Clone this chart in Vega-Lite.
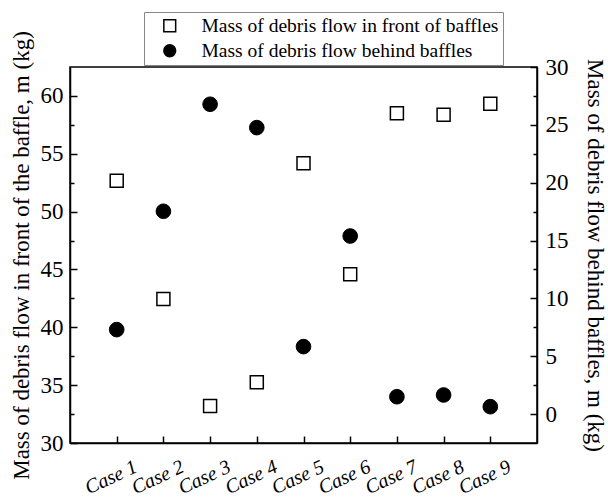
{
  "$schema": "https://vega.github.io/schema/vega-lite/v6.json",
  "width": 467,
  "height": 376,
  "autosize": {"type": "none"},
  "padding": {"left": 70, "top": 67, "right": 71, "bottom": 56},
  "background": "white",
  "config": {
    "view": {"stroke": "black", "strokeWidth": 1.5},
    "font": "Liberation Serif",
    "axis": {
      "domainColor": "black", "domainWidth": 1.5,
      "tickColor": "black", "tickWidth": 1.5,
      "labelColor": "black", "labelFont": "Liberation Serif", "labelFontSize": 23,
      "titleColor": "black", "titleFont": "Liberation Serif", "titleFontSize": 23, "titleFontWeight": "normal",
      "grid": false
    },
    "legend": {
      "labelFont": "Liberation Serif", "labelFontSize": 19.5, "labelColor": "black", "labelLimit": 0
    }
  },
  "data": {
    "values": [
      {"case": "Case 1", "series": "Mass of debris flow in front of baffles", "value": 52.67},
      {"case": "Case 2", "series": "Mass of debris flow in front of baffles", "value": 42.45},
      {"case": "Case 3", "series": "Mass of debris flow in front of baffles", "value": 33.2},
      {"case": "Case 4", "series": "Mass of debris flow in front of baffles", "value": 35.25},
      {"case": "Case 5", "series": "Mass of debris flow in front of baffles", "value": 54.17},
      {"case": "Case 6", "series": "Mass of debris flow in front of baffles", "value": 44.58},
      {"case": "Case 7", "series": "Mass of debris flow in front of baffles", "value": 58.5},
      {"case": "Case 8", "series": "Mass of debris flow in front of baffles", "value": 58.38},
      {"case": "Case 9", "series": "Mass of debris flow in front of baffles", "value": 59.33},
      {"case": "Case 1", "series": "Mass of debris flow behind baffles", "value": 7.3},
      {"case": "Case 2", "series": "Mass of debris flow behind baffles", "value": 17.53},
      {"case": "Case 3", "series": "Mass of debris flow behind baffles", "value": 26.78},
      {"case": "Case 4", "series": "Mass of debris flow behind baffles", "value": 24.76},
      {"case": "Case 5", "series": "Mass of debris flow behind baffles", "value": 5.83},
      {"case": "Case 6", "series": "Mass of debris flow behind baffles", "value": 15.39},
      {"case": "Case 7", "series": "Mass of debris flow behind baffles", "value": 1.5},
      {"case": "Case 8", "series": "Mass of debris flow behind baffles", "value": 1.65},
      {"case": "Case 9", "series": "Mass of debris flow behind baffles", "value": 0.64}
    ]
  },
  "encoding": {
    "x": {
      "field": "case", "type": "nominal", "sort": null,
      "scale": {"type": "point", "padding": 1},
      "axis": {
        "title": null, "labelAngle": -25, "labelAlign": "center", "labelBaseline": "middle",
        "labelFontStyle": "italic", "labelFontSize": 20, "labelFont": "Liberation Serif",
        "tickSize": -7, "labelPadding": 41, "labelOffset": -6
      }
    },
    "shape": {
      "field": "series", "type": "nominal",
      "scale": {"domain": ["Mass of debris flow in front of baffles", "Mass of debris flow behind baffles"], "range": ["square", "circle"]},
      "legend": {
        "title": null, "orient": "none", "legendX": 74, "legendY": -55,
        "strokeColor": "#888888", "padding": 4, "rowPadding": 4,
        "symbolSize": 140, "symbolOffset": 12, "labelOffset": 22, "fillColor": "white",
        "encode": {"symbols": {"update": {"stroke": {"value": "black"}, "strokeWidth": {"value": 1.5}}}}
      }
    },
    "fill": {
      "field": "series", "type": "nominal",
      "scale": {"domain": ["Mass of debris flow in front of baffles", "Mass of debris flow behind baffles"], "range": ["white", "black"]},
      "legend": {
        "title": null, "orient": "none", "legendX": 74, "legendY": -55,
        "strokeColor": "#888888", "padding": 4, "rowPadding": 4,
        "symbolSize": 140, "symbolOffset": 12, "labelOffset": 22, "fillColor": "white",
        "encode": {"symbols": {"update": {"stroke": {"value": "black"}, "strokeWidth": {"value": 1.5}}}}
      }
    }
  },
  "layer": [
    {
      "transform": [{"filter": "datum.series === 'Mass of debris flow in front of baffles'"}],
      "mark": {"type": "point", "filled": true, "stroke": "black", "strokeWidth": 1.5, "opacity": 1, "size": 169},
      "encoding": {
        "y": {
          "field": "value", "type": "quantitative",
          "scale": {"domain": [30, 62.5], "nice": false, "zero": false},
          "axis": {
            "orient": "left",
            "title": "Mass of debris flow in front of the baffle, m (kg)",
            "values": [30, 32.5, 35, 37.5, 40, 42.5, 45, 47.5, 50, 52.5, 55, 57.5, 60],
            "labelExpr": "datum.value % 5 === 0 ? datum.label : ''",
            "tickSize": {"condition": {"test": "datum.value % 5 === 0", "value": -7}, "value": -4},
            "labelPadding": 14, "titlePadding": 7
          }
        }
      }
    },
    {
      "transform": [{"filter": "datum.series === 'Mass of debris flow behind baffles'"}],
      "mark": {"type": "point", "filled": true, "stroke": "black", "strokeWidth": 1, "opacity": 1, "size": 215},
      "encoding": {
        "y": {
          "field": "value", "type": "quantitative",
          "scale": {"domain": [-2.5, 30], "nice": false, "zero": false},
          "axis": {
            "orient": "right",
            "title": "Mass of debris flow behind baffles, m (kg)",
            "values": [0, 2.5, 5, 7.5, 10, 12.5, 15, 17.5, 20, 22.5, 25, 27.5, 30],
            "labelExpr": "datum.value % 5 === 0 ? datum.label : ''",
            "tickSize": {"condition": {"test": "datum.value % 5 === 0", "value": -7}, "value": -4},
            "labelPadding": 15, "titlePadding": 14
          }
        }
      }
    }
  ],
  "resolve": {"scale": {"y": "independent"}}
}
